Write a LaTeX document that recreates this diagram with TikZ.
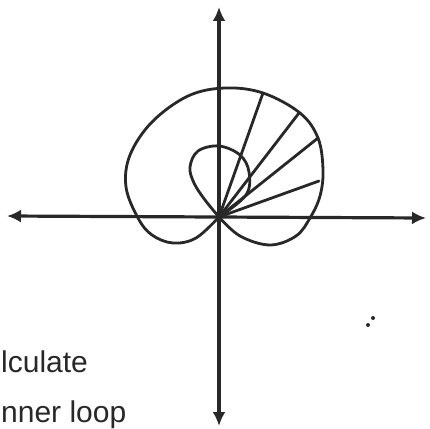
\documentclass[tikz,border=0pt]{standalone}
\usepackage{fontspec}
\setmainfont{Liberation Sans}
\usetikzlibrary{arrows.meta}
\definecolor{ink}{RGB}{40,40,40}
\begin{document}
\begin{tikzpicture}[x=1pt,y=-1pt,
  axis/.style={line width=3.2pt, draw=ink, {Latex[length=14pt,width=13pt]}-{Latex[length=14pt,width=13pt]}},
  curve/.style={line width=2.8pt, draw=ink, line join=round, line cap=round},
  ray/.style={line width=2.8pt, draw=ink, line cap=round},
  hand/.style={font=\fontsize{30}{30}\selectfont, text=ink, inner sep=0pt, anchor=base west}]
\useasboundingbox (0,0) rectangle (430,428);
% axes
\coordinate (L) at (7,216);
\coordinate (R) at (426,218);
\coordinate (T) at (219,7);
\coordinate (B) at (219,426);
\coordinate (O) at (219,217);
\draw[axis] (L) -- (R);
\draw[axis] (T) -- (B);
% outer loop
\draw[curve] plot[smooth, tension=0.6] coordinates {(219,217) (240,236) (270,245) (296,236) (310,218) (320,196) (323,170) (318,138) (300,113) (263,93) (225,88) (188,96) (152,122) (130,155) (126,187) (138,218) (152,235) (173,243) (196,238) (219,217)};
% inner loop
\draw[curve] plot[smooth, tension=0.6] coordinates {(219,217) (205,200) (194,183) (190,167) (198,151) (219,146) (240,155) (249,172) (246,195) (219,217)};
% rays
\coordinate (P1) at (263,93);
\coordinate (P2) at (299,113);
\coordinate (P3) at (318,138);
\coordinate (P4) at (319,181);
\draw[ray] (O) -- (P1);
\draw[ray] (O) -- (P2);
\draw[ray] (O) -- (P3);
\draw[ray] (O) -- (P4);
% small mark
\fill[ink] (373,318) circle (2pt);
\fill[ink] (368,325) circle (2pt);
% text
\node[hand] (t1) at (1,372) {lculate};
\node[hand] (t2) at (1,422) {nner loop};
\end{tikzpicture}
\end{document}
